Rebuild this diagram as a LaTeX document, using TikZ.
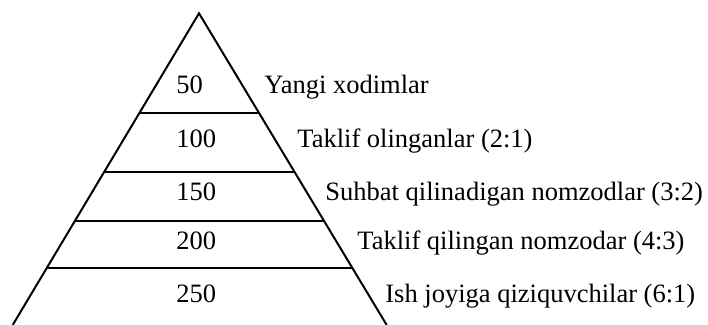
\documentclass[tikz,border=0pt]{standalone}
\usepackage{fontspec}
\setmainfont{Liberation Serif}
\usetikzlibrary{calc}

\begin{document}
\begin{tikzpicture}[
  x=0.5pt, y=-0.5pt,
  font=\fontsize{13.25}{15}\selectfont,
  every node/.style={inner sep=0pt},
  edge/.style={line width=1pt, black},
  num/.style={anchor=base west},
  lbl/.style={anchor=base west},
]
\useasboundingbox (0,0) rectangle (708,325);

% --- the pyramid ---
\coordinate (top) at (199,13.3);
\coordinate (bl) at (12.7,325);
\coordinate (br) at (386.7,325);
\draw[edge] (bl) -- (top) -- (br);

% --- the levels ---
\foreach \t [count=\i] in {0.319, 0.508, 0.666, 0.816}{
  \coordinate (l\i) at ($(top)!\t!(bl)$);
  \coordinate (r\i) at ($(top)!\t!(br)$);
  \draw[edge] (l\i) -- (r\i);
}

% --- numbers ---
\node[num] (n1) at (176,94)  {50};
\node[num] (n2) at (176,148) {100};
\node[num] (n3) at (176,201) {150};
\node[num] (n4) at (176,250) {200};
\node[num] (n5) at (176,303) {250};

% --- labels ---
\node[lbl] (t1) at (264,94)  {Yangi xodimlar};
\node[lbl] (t2) at (297,148) {Taklif olinganlar (2:1)};
\node[lbl] (t3) at (325,201) {Suhbat qilinadigan nomzodlar (3:2)};
\node[lbl] (t4) at (357,250) {Taklif qilingan nomzodar (4:3)};
\node[lbl] (t5) at (385,303) {Ish joyiga qiziquvchilar (6:1)};

\end{tikzpicture}
\end{document}
